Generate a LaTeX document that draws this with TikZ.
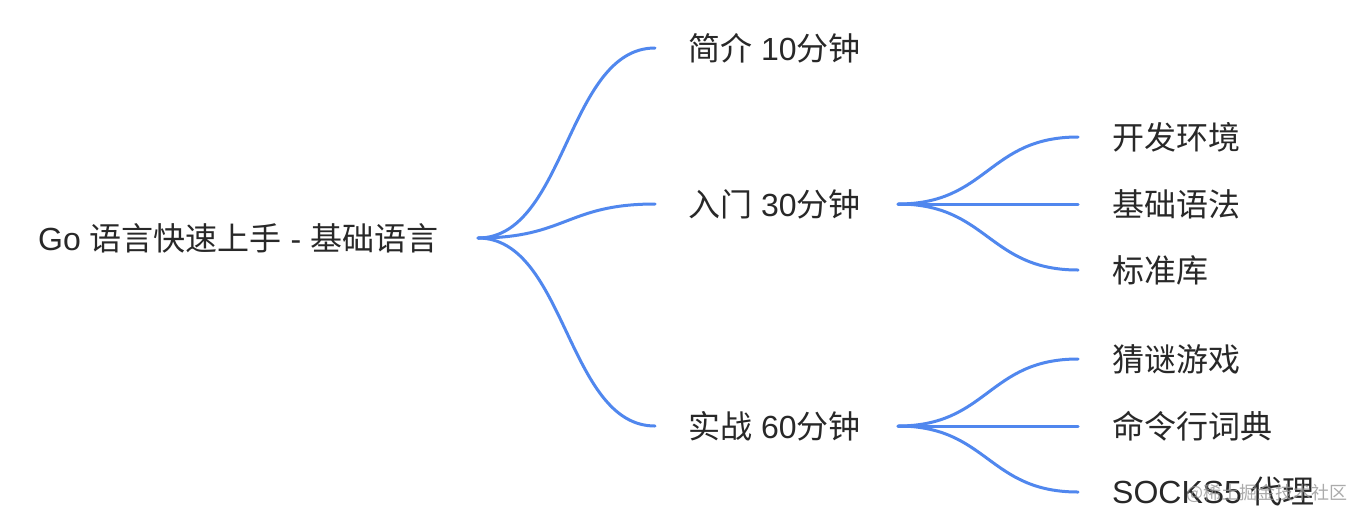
\documentclass[tikz,border=0pt]{standalone}
\usepackage{fontspec}
\setmainfont{Liberation Sans}
\newfontfamily\cjk{Noto Sans CJK SC}
\definecolor{linkblue}{RGB}{80,135,238}
\definecolor{txt}{RGB}{40,40,40}
\definecolor{wm}{RGB}{150,150,150}
\begin{document}
\begin{tikzpicture}[x=1pt,y=-1pt,
  lbl/.style={anchor=west, inner sep=0pt, text=txt, font=\fontsize{32}{36}\selectfont},
  link/.style={draw=linkblue, line width=3pt, line cap=round}]
\useasboundingbox[fill=white] (0,0) rectangle (1364,523);
% nodes
\node[lbl] (root) at (38,238) {Go {\cjk 语言快速上手} - {\cjk 基础语言}};
\node[lbl] (intro) at (688,48) {{\cjk 简介} 10{\cjk 分钟}};
\node[lbl] (start) at (688,204) {{\cjk 入门} 30{\cjk 分钟}};
\node[lbl] (prac) at (688,426) {{\cjk 实战} 60{\cjk 分钟}};
\node[lbl] (env) at (1112,137) {\cjk 开发环境};
\node[lbl] (syn) at (1112,204) {\cjk 基础语法};
\node[lbl] (lib) at (1112,270) {\cjk 标准库};
\node[lbl] (game) at (1112,359) {\cjk 猜谜游戏};
\node[lbl] (dict) at (1112,426) {\cjk 命令行词典};
\node[lbl] (socks) at (1112,492) {SOCKS5 {\cjk 代理}};
% junctions
\coordinate (rJ) at (478,238);
\coordinate (iJ) at (655,48);
\coordinate (sJin) at (655,204);
\coordinate (pJin) at (655,426);
\coordinate (sJ) at (898,204);
\coordinate (pJ) at (898,426);
\coordinate (envJ) at (1078,137);
\coordinate (synJ) at (1078,204);
\coordinate (libJ) at (1078,270);
\coordinate (gameJ) at (1078,359);
\coordinate (dictJ) at (1078,426);
\coordinate (socksJ) at (1078,492);
% connectors
\draw[link] (rJ) .. controls +(88,0) and +(-88,0) .. (iJ);
\draw[link] (rJ) .. controls +(88,0) and +(-88,0) .. (sJin);
\draw[link] (rJ) .. controls +(88,0) and +(-88,0) .. (pJin);
\draw[link] (sJ) .. controls +(90,0) and +(-90,0) .. (envJ);
\draw[link] (sJ) -- (synJ);
\draw[link] (sJ) .. controls +(90,0) and +(-90,0) .. (libJ);
\draw[link] (pJ) .. controls +(90,0) and +(-90,0) .. (gameJ);
\draw[link] (pJ) -- (dictJ);
\draw[link] (pJ) .. controls +(90,0) and +(-90,0) .. (socksJ);
% watermark
\node[anchor=west, inner sep=0pt, text=wm, opacity=0.8, font=\cjk\fontsize{18}{20}\selectfont] (wmk) at (1186,493) {@稀土掘金技术社区};
\end{tikzpicture}
\end{document}
